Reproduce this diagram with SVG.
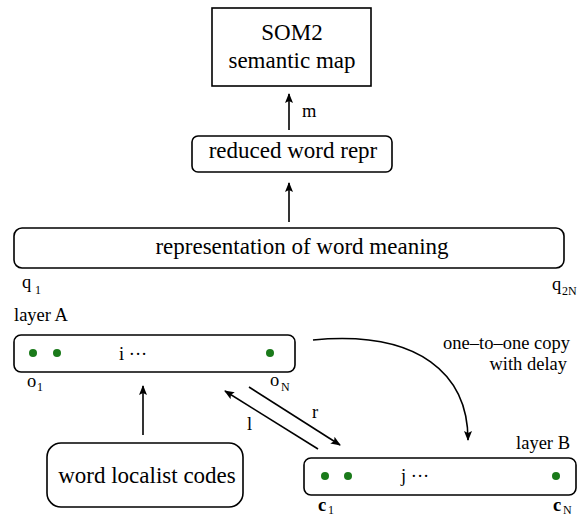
<svg xmlns="http://www.w3.org/2000/svg" width="578" height="516" viewBox="0 0 578 516">
<style>
text{font-family:"Liberation Serif",serif;fill:#000}
.big{font-size:23px}
.sm{font-size:18.5px}
.sub{font-size:12px}
.box{fill:#fff;stroke:#000;stroke-width:1.6}
.ln{stroke:#000;stroke-width:1.6;fill:none}
.dot{fill:#1a7a1a}
</style>
<defs>
<marker id="ah" markerWidth="10" markerHeight="8" refX="9" refY="4" orient="auto" markerUnits="userSpaceOnUse">
<path d="M0,0 L10,4 L0,8 L2,4 z" fill="#000"/>
</marker>
</defs>
<rect width="578" height="516" fill="#fff"/>
<g id="connectors">
<line class="ln" x1="289" y1="130" x2="289" y2="94" marker-end="url(#ah)"/>
<line class="ln" x1="289" y1="222" x2="289" y2="183" marker-end="url(#ah)"/>
<line class="ln" x1="143" y1="435" x2="143" y2="386" marker-end="url(#ah)"/>
<line class="ln" x1="318" y1="449" x2="225" y2="391" marker-end="url(#ah)"/>
<line class="ln" x1="249" y1="387" x2="340" y2="445" marker-end="url(#ah)"/>
<path class="ln" d="M313,340 C420,330 468,375 468,440" marker-end="url(#ah)"/>
<text class="sm" x="302" y="117">m</text>
<text class="sm" x="247" y="430">l</text>
<text class="sm" x="312" y="418">r</text>
<text class="sm" x="570" y="349" text-anchor="end">one–to–one copy</text>
<text class="sm" x="567" y="370" text-anchor="end">with delay</text>
</g>
<g id="som2">
<rect class="box" x="212" y="8" width="159" height="78"/>
<text class="big" x="292" y="40" text-anchor="middle">SOM2</text>
<text class="big" x="292" y="68" text-anchor="middle">semantic map</text>
</g>
<g id="reduced">
<rect class="box" x="192" y="136" width="200" height="36" rx="6"/>
<text class="big" x="293" y="158" text-anchor="middle">reduced word repr</text>
</g>
<g id="representation">
<rect class="box" x="14" y="228" width="550" height="40" rx="8"/>
<text class="big" x="302" y="254" text-anchor="middle">representation of word meaning</text>
<text class="sm" x="22" y="288">q</text><text class="sub" x="35" y="294">1</text>
<text class="sm" x="552" y="290">q</text><text class="sub" x="562" y="295">2N</text>
</g>
<g id="layerA">
<text class="sm" x="14" y="321">layer A</text>
<rect class="box" x="14" y="335" width="281" height="37" rx="7"/>
<circle class="dot" cx="33" cy="353" r="4"/>
<circle class="dot" cx="57" cy="353" r="4"/>
<circle class="dot" cx="270" cy="353" r="4"/>
<text class="sm" x="119" y="360">i ···</text>
<text class="sm" x="27" y="387">o</text><text class="sub" x="37" y="391">1</text>
<text class="sm" x="270" y="386">o</text><text class="sub" x="281" y="391">N</text>
</g>
<g id="localist">
<rect class="box" x="47" y="443" width="196" height="64" rx="14"/>
<text class="big" x="147" y="483" text-anchor="middle">word localist codes</text>
</g>
<g id="layerB">
<text class="sm" x="570" y="449" text-anchor="end">layer B</text>
<rect class="box" x="304" y="458" width="272" height="37" rx="7"/>
<circle class="dot" cx="325" cy="476" r="4"/>
<circle class="dot" cx="348" cy="476" r="4"/>
<circle class="dot" cx="556" cy="476" r="4"/>
<text class="sm" x="401" y="482">j ···</text>
<text class="sm" x="318" y="511" font-weight="bold">c</text><text class="sub" x="328" y="514">1</text>
<text class="sm" x="553" y="511" font-weight="bold">c</text><text class="sub" x="563" y="514">N</text>
</g>
</svg>
